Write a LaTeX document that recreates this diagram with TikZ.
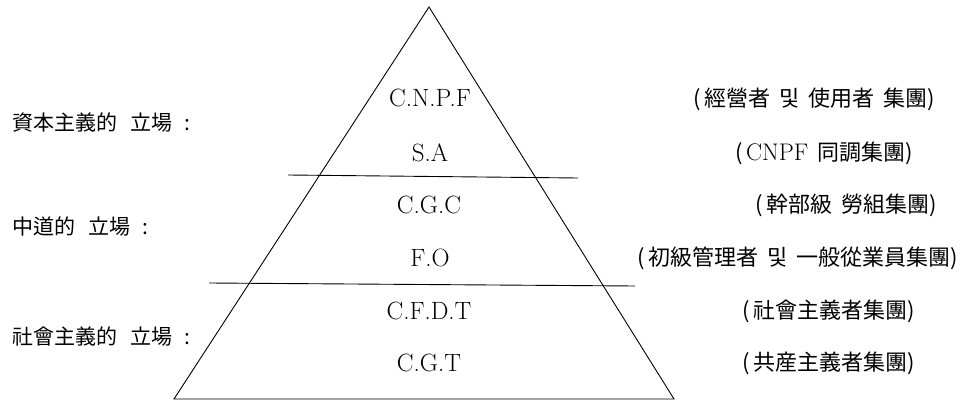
\documentclass[tikz,border=0pt]{standalone}
\usepackage{fontspec}
\newfontfamily\kr{Noto Sans CJK KR}
\usetikzlibrary{positioning}

\begin{document}
\begin{tikzpicture}[x=1pt,y=-1pt,line width=0.9pt]
  \tikzstyle{org}=[font=\fontsize{25}{28}\selectfont,inner sep=0pt]
  \tikzstyle{side}=[font=\kr\fontsize{21}{24}\selectfont,inner sep=0pt]
  \tikzstyle{group}=[font=\kr\fontsize{22}{25}\selectfont,inner sep=0pt,anchor=east]
  \newcommand{\gap}{\hspace{0.6em}}
  \newcommand{\sgap}{\hspace{0.4em}}
  \useasboundingbox (0,0) rectangle (965,411);
  % pyramid
  \coordinate (top) at (429,7);
  \coordinate (bl) at (174,399);
  \coordinate (br) at (674,399);
  \draw (top) -- (br) -- (bl) -- cycle;
  \coordinate (d1l) at (288,175);
  \coordinate (d1r) at (578,178);
  \coordinate (d2l) at (209,283);
  \coordinate (d2r) at (635,286);
  \draw (d1l) -- (d1r);
  \draw (d2l) -- (d2r);
  % unions
  \node[org] (cnpf) at (430,98) {C.N.P.F};
  \node[org] (sa) at (430,153) {S.A};
  \node[org] (cgc) at (429,205) {C.G.C};
  \node[org] (fo) at (430,258) {F.O};
  \node[org] (cfdt) at (429,311) {C.F.D.T};
  \node[org] (cgt) at (429,363) {C.G.T};
  % positions
  \node[side,anchor=west] (capital) at (12,123) {資本主義的\gap 立場\gap :};
  \node[side,anchor=west] (middle) at (12,227) {中道的\gap 立場\gap :};
  \node[side,anchor=west] (social) at (12,337) {社會主義的\gap 立場\gap :};
  % groups
  \node[group] (gcnpf) at (935,99) {(\,經營者\sgap 및\sgap 使用者\sgap 集團)};
  \node[group] (gsa) at (913,153) {(\,{\rmfamily\fontsize{24}{26}\selectfont CNPF}\sgap 同調集團)};
  \node[group] (gcgc) at (937,205) {(\,幹部級\sgap 勞組集團)};
  \node[group] (gfo) at (958,258) {(\,初級管理者\sgap 및\sgap 一般從業員集團)};
  \node[group] (gcfdt) at (915,311) {(\,社會主義者集團)};
  \node[group] (gcgt) at (915,363) {(\,共産主義者集團)};
\end{tikzpicture}
\end{document}
